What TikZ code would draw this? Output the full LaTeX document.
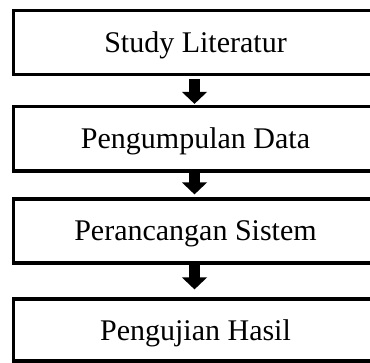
\documentclass[tikz,border=0pt]{standalone}
\usepackage{fontspec}
\setmainfont{Liberation Serif}
\usetikzlibrary{arrows.meta,calc}
\tikzset{
  stepbox/.style={draw=black, line width=3.2pt, minimum width=364pt, inner sep=0pt,
    text height=20pt, text depth=0pt, font=\fontsize{30}{36}\selectfont},
  blockarrow/.style={line width=11.5pt, black, -{Triangle[width=24.5pt,length=12pt]}}
}
\begin{document}
\begin{tikzpicture}
\useasboundingbox (0,0) rectangle (370pt,362pt);
\node[stepbox, minimum height=64pt] (b1) at (195.5pt,319.5pt) {Study Literatur};
\node[stepbox, minimum height=64.5pt] (b2) at (195.5pt,223.25pt) {Pengumpulan Data};
\node[stepbox, minimum height=64pt] (b3) at (195.5pt,131pt) {Perancangan Sistem};
\node[stepbox, minimum height=62pt] (b4) at (195.5pt,32pt) {Pengujian Hasil};
\draw[blockarrow] ($(b1.south)+(-1pt,-3pt)$) -- ($(b2.north)+(-1pt,1pt)$);
\draw[blockarrow] ($(b2.south)+(-1pt,0pt)$) -- ($(b3.north)+(-1pt,3pt)$);
\draw[blockarrow] ($(b3.south)+(-1pt,0pt)$) -- ($(b4.north)+(-1pt,8pt)$);
\end{tikzpicture}
\end{document}
